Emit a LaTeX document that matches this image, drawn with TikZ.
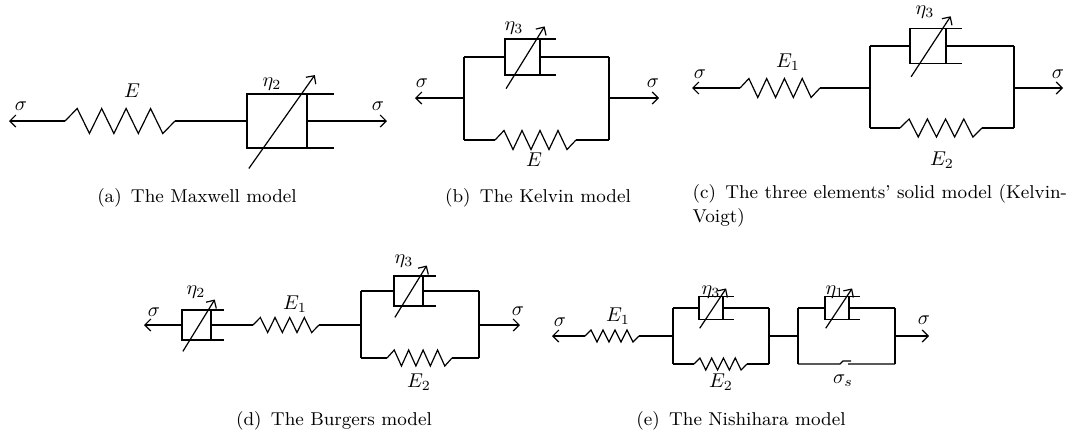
\documentclass[tikz,border=0pt]{standalone}
\usepackage{amsmath}
\usepackage{tikz}
\usetikzlibrary{arrows.meta,calc}

\tikzset{
  spring/.pic={
    \draw (0,0) \foreach \k in {1,3,5,7}{ -- ({\k/9},-1) -- ({(\k+1)/9},1)} -- (1,0);
    \coordinate (-in) at (0,0);
    \coordinate (-out) at (1,0);
  },
  dashpot/.pic={
    \draw (1.45,-0.5) -- (0,-0.5) -- (0,0.5) -- (1.45,0.5);
    \draw (1,-0.5) -- (1,0.5);
    \draw[->] (0.03,0.88) -- (1.13,-0.85);
    \coordinate (-in) at (0,0);
    \coordinate (-out) at (1,0);
  },
}

\begin{document}
\begin{tikzpicture}[x=0.5pt,y=-0.5pt,line width=0.6pt,
    >={Straight Barb[length=3pt,width=6pt]},
    lbl/.style={inner sep=0pt},
    capt/.style={anchor=base,font=\fontsize{9.3}{12}\selectfont}]
   \useasboundingbox (0,0) rectangle (1070,436);

   % (a) Maxwell
   \coordinate (a-l) at (9,121);
   \coordinate (a-r) at (387,121);
   \pic[xscale=110,yscale=12.5] (sA) at (65,121) {spring};
   \pic[xscale=60,yscale=54] (dA) at (247,121) {dashpot};
   \draw[<-] (a-l) -- (sA-in);
   \draw (sA-out) -- (dA-in);
   \draw[->] (dA-out) -- (a-r);
   \node[lbl] (a-s1) at (21,106) {$\sigma$};
   \node[lbl] (a-E) at (132,91) {$E$};
   \node[lbl] (a-eta) at (272,84) {$\eta_2$};
   \node[lbl] (a-s2) at (378,106) {$\sigma$};
   \node[capt] (capA) at (197,202) {(a)\enspace The Maxwell model};

   % (b) Kelvin
   \coordinate (b-l) at (415,98);
   \coordinate (b-r) at (659,98);
   \coordinate (b-ml) at (464,98);
   \coordinate (b-mr) at (609,98);
   \coordinate (b-tl) at (464,57);
   \coordinate (b-bl) at (464,140);
   \coordinate (b-tr) at (609,57);
   \coordinate (b-br) at (609,140);
   \pic[xscale=35,yscale=36] (dB) at (505,57) {dashpot};
   \pic[xscale=81,yscale=9.5] (sB) at (495,140) {spring};
   \draw (b-tl) -- (b-bl) (b-tr) -- (b-br);
   \draw (b-tl) -- (dB-in) (dB-out) -- (b-tr);
   \draw (b-bl) -- (sB-in) (sB-out) -- (b-br);
   \draw[<-] (b-l) -- (b-ml);
   \draw[->] (b-mr) -- (b-r);
   \node[lbl] (b-s1) at (422,83) {$\sigma$};
   \node[lbl] (b-eta) at (514,28) {$\eta_3$};
   \node[lbl] (b-s2) at (653,83) {$\sigma$};
   \node[lbl] (b-E) at (534,160) {$E$};
   \node[capt] (capB) at (538,202) {(b)\enspace The Kelvin model};

   % (c) three elements
   \coordinate (c-l) at (692,88);
   \coordinate (c-r) at (1063,88);
   \coordinate (c-ml) at (870,88);
   \coordinate (c-mr) at (1014,88);
   \coordinate (c-tl) at (870,46);
   \coordinate (c-bl) at (870,128);
   \coordinate (c-tr) at (1014,46);
   \coordinate (c-br) at (1014,128);
   \pic[xscale=80,yscale=9.5] (sC1) at (740,88) {spring};
   \pic[xscale=36,yscale=35] (dC) at (910,46) {dashpot};
   \pic[xscale=82,yscale=9] (sC2) at (900,128) {spring};
   \draw[<-] (c-l) -- (sC1-in);
   \draw (sC1-out) -- (c-ml);
   \draw (c-tl) -- (c-bl) (c-tr) -- (c-br);
   \draw (c-tl) -- (dC-in) (dC-out) -- (c-tr);
   \draw (c-bl) -- (sC2-in) (sC2-out) -- (c-br);
   \draw[->] (c-mr) -- (c-r);
   \node[lbl] (c-s1) at (700,74) {$\sigma$};
   \node[lbl] (c-E1) at (788,62) {$E_1$};
   \node[lbl] (c-eta) at (925,12) {$\eta_3$};
   \node[lbl] (c-s2) at (1058,74) {$\sigma$};
   \node[lbl] (c-E2) at (942,160) {$E_2$};
   \node[capt,anchor=north west,align=left,inner sep=0pt] (capC) at (692,184)
      {(c)\enspace The three elements' solid model (Kelvin-\\Voigt)};

   % (d) Burgers
   \coordinate (d-l) at (144,325);
   \coordinate (d-r) at (520,325);
   \coordinate (d-ml) at (361,325);
   \coordinate (d-mr) at (479,325);
   \coordinate (d-tl) at (361,291);
   \coordinate (d-bl) at (361,358);
   \coordinate (d-tr) at (479,291);
   \coordinate (d-br) at (479,358);
   \pic[xscale=29,yscale=30] (dD1) at (182,325) {dashpot};
   \pic[xscale=66,yscale=7.5] (sD1) at (253,325) {spring};
   \pic[xscale=29,yscale=30] (dD2) at (394,291) {dashpot};
   \pic[xscale=65,yscale=8] (sD2) at (387,358) {spring};
   \draw[<-] (d-l) -- (dD1-in);
   \draw (dD1-out) -- (sD1-in);
   \draw (sD1-out) -- (d-ml);
   \draw (d-tl) -- (d-bl) (d-tr) -- (d-br);
   \draw (d-tl) -- (dD2-in) (dD2-out) -- (d-tr);
   \draw (d-bl) -- (sD2-in) (sD2-out) -- (d-br);
   \draw[->] (d-mr) -- (d-r);
   \node[lbl] (d-s1) at (154,312) {$\sigma$};
   \node[lbl] (d-eta2) at (196,292) {$\eta_2$};
   \node[lbl] (d-E1) at (295,304) {$E_1$};
   \node[lbl] (d-eta3) at (404,261) {$\eta_3$};
   \node[lbl] (d-s2) at (518,311) {$\sigma$};
   \node[lbl] (d-E2) at (419,382) {$E_2$};
   \node[capt] (capD) at (334,425) {(d)\enspace The Burgers model};

   % (e) Nishihara
   \coordinate (e-l) at (552,336);
   \coordinate (e-r) at (929,336);
   \coordinate (e-ml) at (673,336);
   \coordinate (e-m1) at (769,336);
   \coordinate (e-m2) at (798,336);
   \coordinate (e-mr) at (895,336);
   \coordinate (e-tl) at (673,308);
   \coordinate (e-bl) at (673,364);
   \coordinate (e-t1) at (769,308);
   \coordinate (e-b1) at (769,364);
   \coordinate (e-t2) at (798,308);
   \coordinate (e-b2) at (798,364);
   \coordinate (e-tr) at (895,308);
   \coordinate (e-br) at (895,364);
   \coordinate (f-a) at (840,364);
   \coordinate (f-b) at (843,361);
   \coordinate (f-c) at (851,361);
   \coordinate (f-d) at (848,364);
   \pic[xscale=54,yscale=6] (sE1) at (585,336) {spring};
   \pic[xscale=24,yscale=23] (dE1) at (699,308) {dashpot};
   \pic[xscale=53,yscale=6] (sE2) at (694,364) {spring};
   \pic[xscale=24,yscale=23] (dE2) at (825,308) {dashpot};
   \draw[<-] (e-l) -- (sE1-in);
   \draw (sE1-out) -- (e-ml);
   \draw (e-tl) -- (e-bl) (e-t1) -- (e-b1);
   \draw (e-tl) -- (dE1-in) (dE1-out) -- (e-t1);
   \draw (e-bl) -- (sE2-in) (sE2-out) -- (e-b1);
   \draw (e-m1) -- (e-m2);
   \draw (e-t2) -- (e-b2) (e-tr) -- (e-br);
   \draw (e-t2) -- (dE2-in) (dE2-out) -- (e-tr);
   \draw (e-b2) -- (f-a) -- (f-b) -- (f-c) (f-d) -- (e-br);
   \draw[->] (e-mr) -- (e-r);
   \node[lbl] (e-s1) at (560,322) {$\sigma$};
   \node[lbl] (e-E1) at (618,316) {$E_1$};
   \node[lbl] (e-eta3) at (711,292) {$\eta_3$};
   \node[lbl] (e-E2) at (721,382) {$E_2$};
   \node[lbl] (e-eta1) at (835,292) {$\eta_1$};
   \node[lbl] (e-ss) at (843,381) {$\sigma_s$};
   \node[lbl] (e-s2) at (924,320) {$\sigma$};
   \node[capt] (capE) at (741,425) {(e)\enspace The Nishihara model};
\end{tikzpicture}
\end{document}
